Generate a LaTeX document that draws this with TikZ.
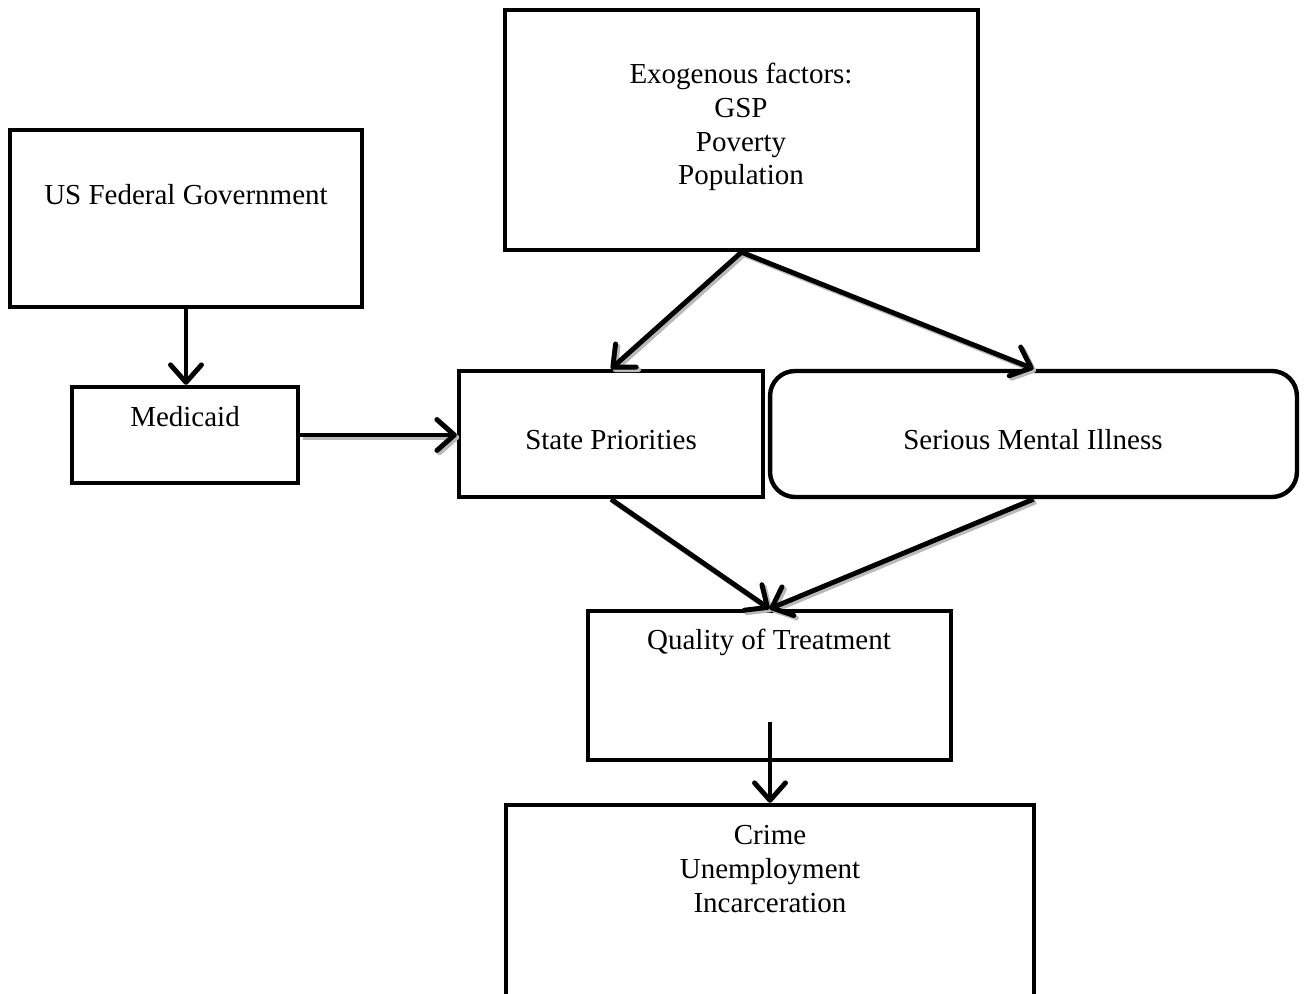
\documentclass[tikz,border=0pt]{standalone}
\usepackage{fontspec}
\setmainfont{Liberation Serif}
\usetikzlibrary{arrows.meta}

\begin{document}
\begin{tikzpicture}[x=0.02cm,y=-0.02cm,>={Straight Barb[length=3.5mm,width=6.2mm,round]}]
    \tikzstyle{every node}=[font=\fontsize{16.5}{19.3}\selectfont,align=center]
    \tikzstyle{box}=[draw,line width=2.5pt,inner sep=0pt]
    \tikzstyle{link}=[->,line width=2.8pt]
    \tikzstyle{shadowed}=[preaction={draw=gray!55,line width=2.8pt,transform canvas={shift={(1.4pt,-1.4pt)}}}]
    \useasboundingbox (0,0) rectangle (1306,994);

    % federal government
    \node[box,minimum width=7.04cm,minimum height=3.54cm] (usfed) at (186,218.5) {};
    \node (usfedtext) at (186,195) {US Federal Government};

    % exogenous factors
    \node[box,minimum width=9.46cm,minimum height=4.8cm] (exo) at (741.5,130) {};
    \node (exotext) at (741,127) {Exogenous factors:\\GSP\\Poverty\\Population};

    % medicaid
    \node[box,minimum width=4.52cm,minimum height=1.92cm] (medicaid) at (185,435) {};
    \node (medicaidtext) at (185,417) {Medicaid};
    \draw[link] (usfed.south) -- (usfed.south |- medicaid.north);

    % state priorities
    \node[box,minimum width=6.08cm,minimum height=2.52cm] (statepri) at (611,434) {};
    \node (stateprittext) at (611,440) {State Priorities};
    \draw[link,shadowed] (medicaid.east) -- (medicaid.east -| statepri.west);

    % mental illness
    \node[box,rounded corners=0.5cm,minimum width=10.54cm,minimum height=2.52cm] (smi) at (1033.5,434) {};
    \node (smitext) at (1033,440) {Serious Mental Illness};
    \draw[link,shadowed] (exo.south) -- (statepri.north);
    \draw[link,shadowed] (exo.south) -- (smi.north);

    % quality of treatment
    \node[box,minimum width=7.26cm,minimum height=2.98cm] (qot) at (769.5,685.5) {};
    \node (qottext) at (769,642) {Quality of Treatment};
    \draw[link,shadowed] (statepri.south) -- (qot.north);
    \draw[link,shadowed] (smi.south) -- (qot.north);

    % outcomes, runs off the page
    \node[box,minimum width=10.56cm,minimum height=4.3cm] (outcome) at (770,912.5) {};
    \node (outcometext) at (770,869) {Crime\\Unemployment\\Incarceration};
    \coordinate (qotstart) at (770,722);
    \draw[link] (qotstart) -- (outcome.north);

\end{tikzpicture}
\end{document}
